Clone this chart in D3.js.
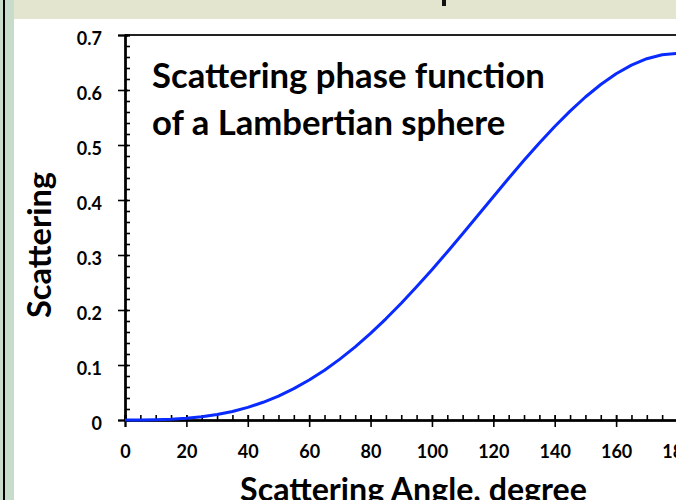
<!DOCTYPE html>
<html lang="en">
<head>
    <meta charset="UTF-8">
    <title>Scattering phase function of a Lambertian sphere</title>
    <script src="https://d3js.org/d3.v7.min.js"></script>
    <style>
        body {
            margin: 0;
            background: #fff;
            font-family: Lato, "Open Sans", sans-serif;
        }
        svg text {
            font-weight: bold;
            fill: #000;
        }
    </style>
</head>
<body>
    <svg id="chart" width="676" height="500"></svg>
    <script>
        // scattering angle (degrees) and phase function value
        const angles = [0, 5, 10, 15, 20, 25, 30, 35, 40, 45, 50, 55, 60, 65, 70, 75, 80, 85, 90,
            95, 100, 105, 110, 115, 120, 125, 130, 135, 140, 145, 150, 155, 160, 165, 170, 175, 180];
        const scattering = [0, 0, 0.0004, 0.0013, 0.003, 0.0058, 0.0099, 0.0155, 0.0229, 0.0322,
            0.0435, 0.057, 0.0727, 0.0906, 0.1107, 0.1331, 0.1575, 0.184, 0.2122, 0.2421, 0.2733,
            0.3056, 0.3388, 0.3723, 0.406, 0.4394, 0.4721, 0.5036, 0.5336, 0.5616, 0.5873, 0.61,
            0.6295, 0.6452, 0.6569, 0.6642, 0.6667];

        const xTicks = [0, 20, 40, 60, 80, 100, 120, 140, 160, 180];
        const yTicks = [0, 0.1, 0.2, 0.3, 0.4, 0.5, 0.6, 0.7];
        const yTickLabels = ['0', '0.1', '0.2', '0.3', '0.4', '0.5', '0.6', '0.7'];

        const svg = d3.select('#chart');

        // slide background pieces
        svg.append('rect').attr('x', 0).attr('y', 0).attr('width', 14).attr('height', 500).attr('fill', '#c7dccb');
        svg.append('rect').attr('x', 3).attr('y', 0).attr('width', 2).attr('height', 500).attr('fill', '#000');
        svg.append('rect').attr('x', 14).attr('y', 0).attr('width', 662).attr('height', 19).attr('fill', '#e3e5cf');
        svg.append('rect').attr('x', 442).attr('y', 0).attr('width', 4).attr('height', 6).attr('fill', '#111');

        const x = d3.scaleLinear().domain([0, 180]).range([125, 677.5]);
        const y = d3.scaleLinear().domain([0, 0.7]).range([420, 35]);

        // plot frame (top and right)
        svg.append('path')
            .attr('d', `M${x(0)},${y(0.7)}H${x(180)}V${y(0)}`)
            .attr('fill', 'none')
            .attr('stroke', '#222')
            .attr('stroke-width', 2);

        // minor ticks, inside
        const minorX = svg.append('g').attr('transform', `translate(0,${y(0)})`)
            .call(d3.axisBottom(x).tickValues(x.ticks(45)).tickSize(-5).tickFormat(''));
        const minorY = svg.append('g').attr('transform', `translate(${x(0)},0)`)
            .call(d3.axisLeft(y).tickValues(y.ticks(35)).tickSize(-5).tickFormat(''));
        // major ticks inside part
        const majInX = svg.append('g').attr('transform', `translate(0,${y(0)})`)
            .call(d3.axisBottom(x).tickValues(xTicks).tickSize(-5).tickFormat(''));
        const majInY = svg.append('g').attr('transform', `translate(${x(0)},0)`)
            .call(d3.axisLeft(y).tickValues(yTicks).tickSize(-3).tickFormat(''));

        // major ticks outside with labels
        const xAxis = svg.append('g').attr('transform', `translate(0,${y(0)})`)
            .call(d3.axisBottom(x).tickValues(xTicks).tickSize(7).tickFormat(d => d));
        const yAxis = svg.append('g').attr('transform', `translate(${x(0)},0)`)
            .call(d3.axisLeft(y).tickValues(yTicks).tickSize(7).tickFormat((d, i) => yTickLabels[i]));

        [minorX, minorY, majInX, majInY, xAxis, yAxis].forEach(g => {
            g.select('.domain').attr('stroke', '#000').attr('stroke-width', 2);
            g.selectAll('.tick line').attr('stroke', '#000').attr('stroke-width', 1.6);
        });

        xAxis.selectAll('.tick text')
            .attr('y', 38).attr('dy', 0)
            .style('font-size', '18px')
            .style('font-family', 'Lato, "Open Sans", sans-serif');
        yAxis.selectAll('.tick text')
            .attr('x', -23).attr('dy', 0).attr('y', 9.5)
            .style('font-size', '18px')
            .style('font-family', 'Lato, "Open Sans", sans-serif');

        // the curve
        const line = d3.line()
            .x((d, i) => x(angles[i]))
            .y(d => y(d));

        svg.append('path')
            .datum(scattering)
            .attr('d', line)
            .attr('fill', 'none')
            .attr('stroke', '#0a2bff')
            .attr('stroke-width', 3)
            .attr('stroke-linejoin', 'round');

        // fit a text to a target width by scaling its font size
        function fitText(sel, width) {
            sel.style('font-size', '100px');
            const w = sel.node().getComputedTextLength();
            sel.style('font-size', (100 * width / w).toFixed(2) + 'px');
            return sel;
        }

        const note1 = svg.append('text').attr('x', 152).attr('y', 88).text('Scattering phase function');
        fitText(note1, 393);
        svg.append('text').attr('x', 152).attr('y', 135)
            .style('font-size', note1.style('font-size'))
            .text('of a Lambertian sphere');

        const yTitle = svg.append('text')
            .attr('transform', 'translate(51,245) rotate(-90)')
            .attr('text-anchor', 'middle')
            .text('Scattering');
        fitText(yTitle, 146);

        const xTitle = svg.append('text')
            .attr('x', 413.5).attr('y', 501)
            .attr('text-anchor', 'middle')
            .text('Scattering Angle, degree');
        fitText(xTitle, 347);
    </script>
</body>
</html>
